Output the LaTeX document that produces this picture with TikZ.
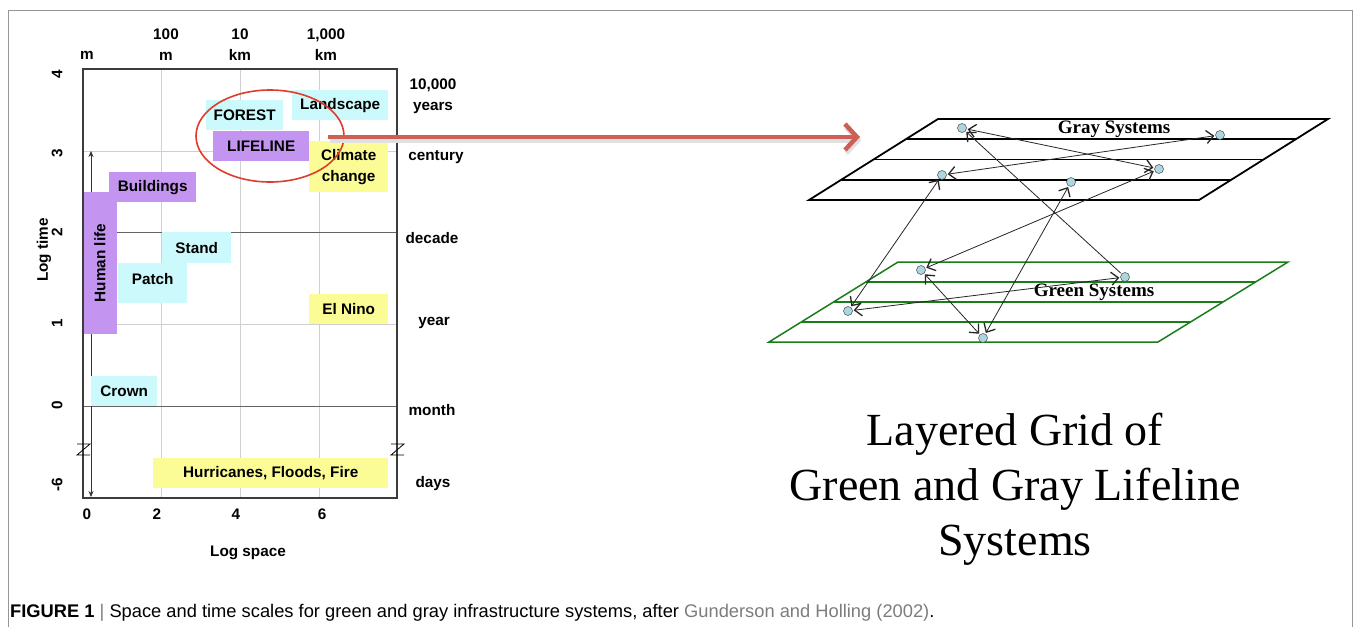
\documentclass[tikz,border=0pt]{standalone}
\usepackage{fontspec}
\setmainfont{Liberation Sans}
\newfontfamily\timesfont{Liberation Serif}
\usetikzlibrary{arrows.meta,calc,shapes.geometric}
\definecolor{cyanbox}{RGB}{204,250,252}
\definecolor{purplebox}{RGB}{195,148,240}
\definecolor{yellowbox}{RGB}{252,252,150}
\definecolor{ellred}{RGB}{222,60,45}
\definecolor{arrred}{RGB}{205,95,85}
\definecolor{gridgray}{RGB}{208,208,208}
\definecolor{framegray}{RGB}{60,60,60}
\definecolor{planegreen}{RGB}{25,125,25}
\definecolor{dotblue}{RGB}{172,214,224}
\definecolor{linkgray}{RGB}{125,125,125}
\definecolor{bordergray}{RGB}{150,150,150}
\tikzset{
  lbl/.style={font=\bfseries\fontsize{15.3}{21}\selectfont, inner sep=0pt, align=center},
  rlbl/.style={lbl, rotate=90},
  chartbox/.style={lbl, anchor=north west, inner sep=0pt},
  cbox/.style={chartbox, fill=cyanbox},
  pbox/.style={chartbox, fill=purplebox},
  ybox/.style={chartbox, fill=yellowbox},
  gridline/.style={gridgray, line width=0.8pt},
  darkline/.style={framegray!80, line width=0.8pt},
  dot/.style={circle, draw=black!70, fill=dotblue, line width=0.5pt, minimum size=9pt, inner sep=0pt},
  tipb/.tip={Straight Barb[length=7pt,width=13pt,line width=1.3pt]},
  link/.style={black!85, line width=0.8pt, tipb-tipb, shorten <=1pt, shorten >=1pt},
  onelink/.style={black!85, line width=0.8pt, -tipb, shorten <=1pt, shorten >=1pt},
  breakmark/.style={black, line width=0.8pt},
}
\begin{document}
\begin{tikzpicture}[x=1pt,y=-1pt]
\fill[white] (0,0) rectangle (1356,627);
\useasboundingbox (0,0) rectangle (1356,627);
% outer border
\draw[bordergray, line width=1pt] (8,627) -- (8,10) -- (1352,10) -- (1352,627);

% ---------- chart grid ----------
\foreach \x in {161,240,319} \draw[gridline] (\x,69) -- (\x,498);
\draw[gridline] (83,151) -- (397,151);
\draw[gridline] (83,324) -- (397,324);
\draw[darkline] (83,232) -- (397,232);
\draw[darkline] (83,406) -- (397,406);

% vertical double arrow
\coordinate (vtop) at (91,151);
\coordinate (vbot) at (91,497);
\draw[black!80, line width=0.7pt, {Stealth[length=6pt,width=5pt]}-{Stealth[length=6pt,width=5pt]}] (vtop) -- (vbot);

% ---------- boxes ----------
\node[cbox, minimum width=77pt, minimum height=30pt] (forest) at (206,100) {FOREST};
\node[cbox, minimum width=96pt, minimum height=30pt] (landscape) at (292,90) {Landscape};
\node[pbox, minimum width=96pt, minimum height=30pt] (lifeline) at (213,131) {LIFELINE};
\node[ybox, minimum width=79pt, minimum height=51pt] (climate) at (309,141) {Climate\\change};
\node[pbox, minimum width=87pt, minimum height=30pt] (buildings) at (109,172) {Buildings};
\node[lbl, rotate=90, fill=purplebox, minimum width=142pt, minimum height=34pt] (human) at (100,263) {Human life};
\node[cbox, minimum width=69pt, minimum height=31pt] (stand) at (162,232) {Stand};
\node[cbox, minimum width=69pt, minimum height=40pt, text depth=8pt] (patch) at (118,263) {Patch};
\node[ybox, minimum width=79pt, minimum height=30pt] (elnino) at (309,294) {El Nino};
\node[cbox, minimum width=66pt, minimum height=30pt] (crown) at (91,376) {Crown};
\node[ybox, minimum width=235pt, minimum height=30pt] (hurr) at (153,458) {Hurricanes, Floods, Fire};

% frame
\draw[framegray, line width=1.2pt] (83,69) rectangle (397,498);
% break marks
\draw[breakmark] (77,444) -- (90,444) -- (77,455) -- (90,455);
\draw[breakmark] (391,444) -- (404,444) -- (391,455) -- (404,455);

% ellipse
\node[draw=ellred, line width=1.6pt, ellipse, minimum width=148pt, minimum height=92pt, inner sep=0pt] (ell) at (270,136) {};

% top labels
\node[lbl] (tm) at (87,55) {m};
\node[lbl] (t100) at (166,45) {100\\m};
\node[lbl] (t10) at (240,45) {10\\km};
\node[lbl] (t1000) at (326,45) {1,000\\km};
% right labels
\node[lbl] (r1) at (433,96) {10,000\\years};
\node[lbl] (r2) at (436,157) {century};
\node[lbl] (r3) at (432,238) {decade};
\node[lbl] (r4) at (434,323) {year};
\node[lbl] (r5) at (432,410) {month};
\node[lbl] (r6) at (433,484) {days};
% left labels
\node[rlbl] (l4) at (57,74) {4};
\node[rlbl] (l3) at (57,153) {3};
\node[rlbl] (l2) at (57,232) {2};
\node[rlbl] (l1) at (57,323) {1};
\node[rlbl] (l0) at (57,405) {0};
\node[rlbl] (l6) at (57,485) {-6};
\node[rlbl] (ltime) at (44,250) {Log time};
% bottom labels
\node[lbl] (b0) at (87,514) {0};
\node[lbl] (b2) at (157,514) {2};
\node[lbl] (b4) at (236,514) {4};
\node[lbl] (b6) at (322,514) {6};
\node[lbl] (bspace) at (248,553) {Log space};

% red arrow
\coordinate (arrS) at (328,137);
\coordinate (arrE) at (860,137);
\draw[black!12, line width=5pt, -{Straight Barb[length=12pt,width=26pt]}] ([shift={(1.5,3)}]arrS) -- ([shift={(1.5,3)}]arrE);
\draw[arrred, line width=4.5pt, -{Straight Barb[length=12pt,width=26pt]}] (arrS) -- (arrE);

% ---------- gray plane ----------
\coordinate (GTL) at (938,119);
\coordinate (GTR) at (1328,119);
\coordinate (GBR) at (1199,200);
\coordinate (GBL) at (809,200);
\draw[black, line width=1.8pt, line join=miter] (GTL) -- (GTR) -- (GBR) -- (GBL) -- cycle;
\foreach \t in {0.25,0.5,0.75}
  \draw[black, line width=1.8pt] ($(GTL)!\t!(GBL)$) -- ($(GTR)!\t!(GBR)$);
% green plane
\coordinate (ETL) at (898,262);
\coordinate (ETR) at (1288,262);
\coordinate (EBR) at (1158,342);
\coordinate (EBL) at (769,342);
\draw[planegreen, line width=1.5pt, line join=miter] (ETL) -- (ETR) -- (EBR) -- (EBL) -- cycle;
\foreach \t in {0.25,0.5,0.75}
  \draw[planegreen, line width=1.5pt] ($(ETL)!\t!(EBL)$) -- ($(ETR)!\t!(EBR)$);

\node[font=\timesfont\bfseries\fontsize{19}{22}\selectfont, inner sep=0pt] (graylbl) at (1114,129) {Gray Systems};
\node[font=\timesfont\bfseries\fontsize{19}{22}\selectfont, inner sep=0pt] (greenlbl) at (1094,292) {Green Systems};

% dots
\node[dot] (g1) at (962,128) {};
\node[dot] (g2) at (1220,135) {};
\node[dot] (g3) at (1159,169) {};
\node[dot] (g4) at (942,175) {};
\node[dot] (g5) at (1071,182) {};
\node[dot] (n1) at (921,270) {};
\node[dot] (n2) at (1125,277) {};
\node[dot] (n3) at (848,311) {};
\node[dot] (n4) at (983,338) {};

% links
\draw[link] (g1) -- (g3);
\draw[link] (g4) -- (g2);
\draw[onelink] (n2) -- (g1);
\draw[link] (g3) -- (n1);
\draw[link] (g4) -- (n3);
\draw[link] (g5) -- (n4);
\draw[link] (n1) -- (n4);
\draw[link] (n3) -- (n2);

% title
\node[font=\timesfont\fontsize{46}{55}\selectfont, align=center, inner sep=0pt] (title) at (1015,489) {Layered Grid of\\Green and Gray Lifeline\\Systems};

% caption
\node[anchor=base west, inner sep=0pt, font=\fontsize{18.3}{20}\selectfont] (caption) at (10,617) {\textbf{FIGURE 1} \textcolor{linkgray}{|} Space and time scales for green and gray infrastructure systems, after \textcolor{linkgray}{Gunderson and Holling (2002)}.};
\end{tikzpicture}
\end{document}
